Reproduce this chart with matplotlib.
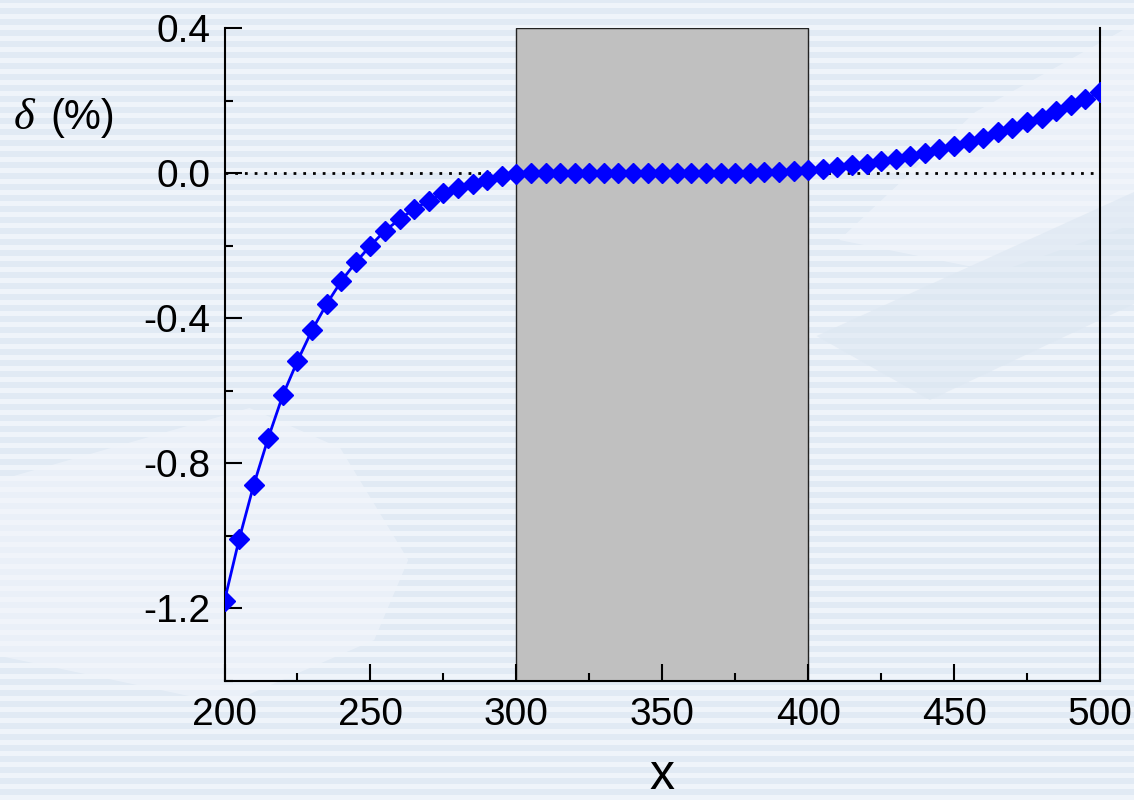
import numpy as np
import matplotlib
matplotlib.use("Agg")
import matplotlib.pyplot as plt
from matplotlib.patches import Polygon
from matplotlib.ticker import MultipleLocator

plt.rcParams['font.family'] = ['Liberation Sans', 'DejaVu Sans']

x_vals = np.arange(200, 501, 5)
delta = [-1.179, -1.010, -0.860, -0.730, -0.612, -0.518, -0.433, -0.361, -0.298, -0.246,
         -0.200, -0.159, -0.127, -0.099, -0.076, -0.056, -0.042, -0.029, -0.019, -0.008,
         -0.003, -0.001, 0.000, 0.001, 0.001, 0.001, 0.001, 0.000, 0.000, 0.000,
         -0.001, -0.001, -0.001, -0.001, -0.001, 0.000, 0.001, 0.002, 0.004, 0.007,
         0.009, 0.012, 0.018, 0.021, 0.026, 0.032, 0.039, 0.046, 0.055, 0.065,
         0.075, 0.087, 0.098, 0.112, 0.123, 0.140, 0.153, 0.170, 0.187, 0.205,
         0.223]
band = (300, 400)

fig = plt.figure(figsize=(11.34, 8.0), dpi=100)
fig.patch.set_facecolor('#e1eaf4')

# striped backdrop
bg = fig.add_axes([0, 0, 1, 1], zorder=-1)
bg.set_xlim(0, 1)
bg.set_ylim(0, 800)
bg.axis('off')
for y0 in np.arange(0, 800, 11):
    bg.axhspan(y0, y0 + 5.5, color='#eff4fa', lw=0)
# soft shapes standing in for the picture behind
shapes = [
    [(0.0, 0.40), (0.22, 0.49), (0.30, 0.44), (0.36, 0.30), (0.33, 0.20), (0.20, 0.12), (0.0, 0.18)],
    [(0.74, 0.70), (0.86, 0.86), (1.0, 0.97), (1.0, 0.72), (0.88, 0.66)],
    [(0.72, 0.58), (1.0, 0.76), (1.0, 0.62), (0.82, 0.50)],
]
for pts, c in zip(shapes, ['#f1f5fb', '#f1f5fb', '#dde7f2']):
    bg.add_patch(Polygon([(px, py * 800) for px, py in pts], closed=True,
                         facecolor=c, edgecolor='none', alpha=0.6))

ax = fig.add_axes([0.198, 0.149, 0.772, 0.816])
ax.patch.set_alpha(0)

ax.axvspan(band[0], band[1], facecolor='#c0c0c0', edgecolor='#222222', lw=1, zorder=1)
ax.axhline(0, color='black', ls=(0, (1, 2.5)), lw=2, zorder=2)
ax.plot(x_vals, delta, color='blue', lw=2, marker='D', ms=10, zorder=3)

ax.set_xlim(200, 500)
ax.set_ylim(-1.4, 0.4)
ax.xaxis.set_major_locator(MultipleLocator(50))
ax.xaxis.set_minor_locator(MultipleLocator(25))
ax.yaxis.set_minor_locator(MultipleLocator(0.2))
ax.set_yticks([-1.2, -0.8, -0.4, 0.0, 0.4])
ax.set_yticklabels(['-1.2', '-0.8', '-0.4', '0.0', '0.4'])
ax.tick_params(which='both', direction='in', labelsize=28, width=1.5, pad=10)
ax.tick_params(which='major', length=12)
ax.tick_params(which='minor', length=6)
ax.tick_params(axis='x', pad=12)

ax.spines['top'].set_visible(False)
for s in ['left', 'bottom', 'right']:
    ax.spines[s].set_linewidth(1.5)

ax.set_xlabel('x', fontsize=36, labelpad=14)
fig.text(0.012, 0.853, 'δ', fontsize=32, family='Liberation Serif', style='italic', va='center')
fig.text(0.044, 0.853, '(%)', fontsize=30, va='center')

fig.savefig('out.png', dpi=100, facecolor=fig.get_facecolor())
